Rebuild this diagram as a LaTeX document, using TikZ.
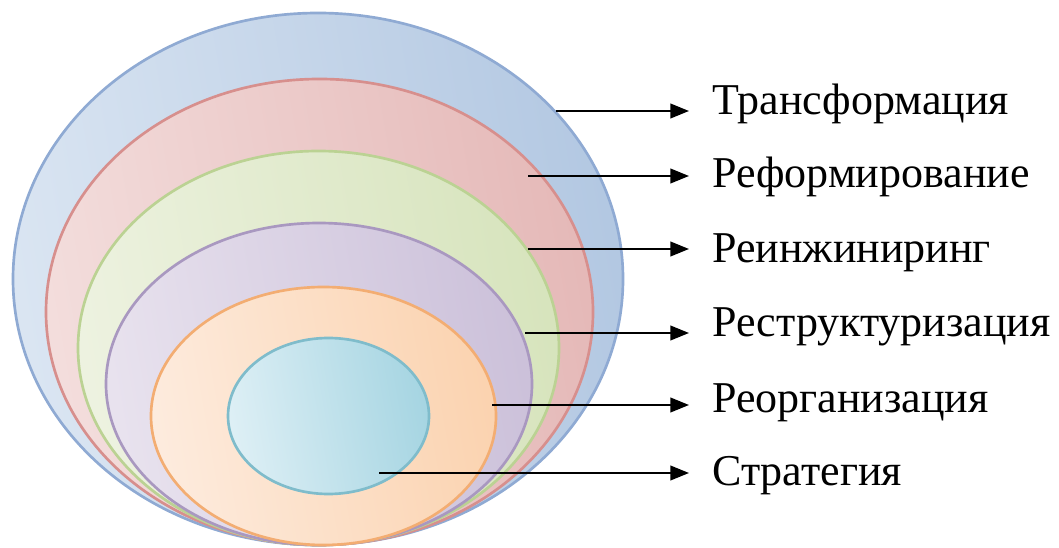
\documentclass[tikz,border=0pt]{standalone}
\usepackage{fontspec}
\setmainfont{Liberation Serif}
\newfontfamily\lblfont{Liberation Serif}
\usetikzlibrary{arrows.meta}
\definecolor{bluL}{HTML}{DAE5F2}\definecolor{bluD}{HTML}{B3C8E2}\definecolor{bluS}{HTML}{8FAAD3}
\definecolor{redL}{HTML}{F3DDDC}\definecolor{redD}{HTML}{E5B9B8}\definecolor{redS}{HTML}{D78F8D}
\definecolor{grnL}{HTML}{EDF2E0}\definecolor{grnD}{HTML}{D7E4BD}\definecolor{grnS}{HTML}{BBD293}
\definecolor{purL}{HTML}{E8E2EE}\definecolor{purD}{HTML}{CCC1DA}\definecolor{purS}{HTML}{A998C0}
\definecolor{orgL}{HTML}{FDEBDD}\definecolor{orgD}{HTML}{FBD3B0}\definecolor{orgS}{HTML}{F3AD72}
\definecolor{cynL}{HTML}{DDEFF5}\definecolor{cynD}{HTML}{A6D5E2}\definecolor{cynS}{HTML}{7FBCCB}
\tikzset{
  ring/.style n args={3}{draw=#3, line width=2pt, left color=#1, right color=#2, shading angle=100},
  arr/.style={line width=1.5pt, -{Triangle[length=14pt,width=11pt]}},
  lbl/.style={anchor=base west, inner sep=0pt, font=\lblfont\fontsize{33}{38}\selectfont}
}
\begin{document}
\begin{tikzpicture}[x=0.75pt,y=-0.75pt]
\useasboundingbox (0,0) rectangle (1059,548);
% nested ellipses
\path[ring={bluL}{bluD}{bluS}] (318,279) ellipse [x radius=305, y radius=266];
\path[ring={redL}{redD}{redS}] (319.5,312) ellipse [x radius=273.5, y radius=233];
\path[ring={grnL}{grnD}{grnS}] (318.5,348) ellipse [x radius=240.5, y radius=197];
\path[ring={purL}{purD}{purS}] (319,384) ellipse [x radius=213, y radius=161];
\path[ring={orgL}{orgD}{orgS}] (323.5,416) ellipse [x radius=172.5, y radius=129];
\path[ring={cynL}{cynD}{cynS}] (328.5,416) ellipse [x radius=100.5, y radius=78];
% labels
\node[lbl] (t1) at (712,115) {Трансформация};
\node[lbl] (t2) at (712,188) {Реформирование};
\node[lbl] (t3) at (712,263) {Реинжиниринг};
\node[lbl] (t4) at (712,337) {Реструктуризация};
\node[lbl] (t5) at (712,412) {Реорганизация};
\node[lbl] (t6) at (712,485) {Стратегия};
% arrow ends
\coordinate (s1) at (556,111); \coordinate (e1) at (689,111);
\coordinate (s2) at (528,176); \coordinate (e2) at (689,176);
\coordinate (s3) at (528,249); \coordinate (e3) at (689,249);
\coordinate (s4) at (525,333); \coordinate (e4) at (689,333);
\coordinate (s5) at (492,405); \coordinate (e5) at (689,405);
\coordinate (s6) at (379,473); \coordinate (e6) at (689,473);
\foreach \i in {1,...,6} \draw[arr] (s\i) -- (e\i);
\end{tikzpicture}
\end{document}
